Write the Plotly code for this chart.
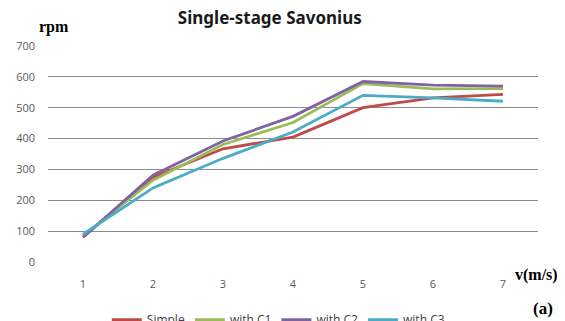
import plotly.graph_objects as go

v = ["1", "2", "3", "4", "5", "6", "7"]
simple = [80, 275, 367, 405, 500, 532, 543]
with_c1 = [85, 265, 381, 452, 578, 561, 562]
with_c2 = [80, 281, 392, 472, 585, 573, 570]
with_c3 = [90, 240, 336, 421, 540, 532, 521]
y_ticks = [0, 100, 200, 300, 400, 500, 600, 700]

series = [
    ("Simple", simple, "#BE4B48"),
    ("with C1", with_c1, "#9BBB59"),
    ("with C2", with_c2, "#8064A2"),
    ("with C3", with_c3, "#4BACC6"),
]

fig = go.Figure()
for name, vals, col in series:
    fig.add_trace(go.Scatter(x=v, y=vals, name=name, mode="lines",
                             line=dict(color=col, width=2.8)))

fig.update_layout(
    width=557, height=313,
    margin=dict(l=40, r=27, t=38, b=59, autoexpand=False),
    paper_bgcolor="white", plot_bgcolor="white",
    font=dict(family="Open Sans, Noto Sans, sans-serif", color="#595959", size=11),
    title=dict(text="<b>Single-stage Savonius</b>", x=0.47, xanchor="center",
               y=0.968, yanchor="middle",
               font=dict(family="Noto Sans, Open Sans, sans-serif", size=17, color="#1a1a1a")),
    showlegend=True,
    legend=dict(orientation="h", x=0.47, xanchor="center", y=-0.2, yanchor="top",
                font=dict(size=12, color="#404040"), itemwidth=30,
                bgcolor="rgba(0,0,0,0)"),
    xaxis=dict(type="category", range=[-0.5, 6.5], showgrid=False, zeroline=False,
               showline=False, ticks="", ticklabelstandoff=14,
               tickfont=dict(size=11, color="#595959")),
    yaxis=dict(range=[0, 700], tickvals=y_ticks, showgrid=True, gridcolor="#8C8C8C",
               gridwidth=1, zeroline=False, showline=False, ticks="",
               ticklabelstandoff=12, tickfont=dict(size=11, color="#595959")),
)

fig.add_annotation(text="<b>rpm</b>", xref="paper", yref="paper", x=-0.022, y=1.035,
                   xanchor="left", yanchor="bottom", showarrow=False,
                   font=dict(family="Liberation Serif, serif", size=16, color="black"))
fig.add_annotation(text="<b>v(m/s)</b>", xref="paper", yref="paper", x=1.045, y=-0.01,
                   xanchor="right", yanchor="top", showarrow=False,
                   font=dict(family="Liberation Serif, serif", size=16, color="black"))
fig.add_annotation(text="<b>(a)</b>", xref="paper", yref="paper", x=1.035, y=-0.163,
                   xanchor="right", yanchor="top", showarrow=False,
                   font=dict(family="Liberation Serif, serif", size=17, color="black"))

fig.write_html("out.html")
